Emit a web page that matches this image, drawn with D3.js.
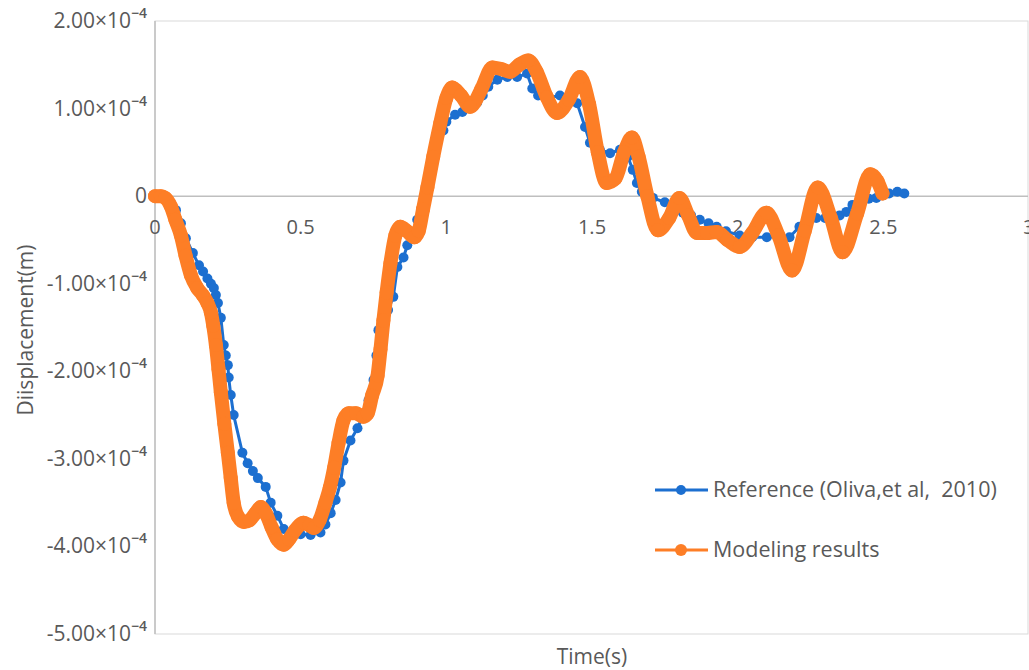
<!DOCTYPE html>
<html>
<head>
<meta charset="utf-8">
<script src="https://cdn.jsdelivr.net/npm/d3@7/dist/d3.min.js"></script>
<style>
  html, body { margin: 0; padding: 0; background: #fff; }
  svg { display: block; }
  text { font-family: "Open Sans", "Noto Sans", sans-serif; fill: #595959; white-space: pre; }
</style>
</head>
<body>
<svg id="chart" width="1029" height="670"></svg>
<script>
// Displacement values are in units of 10^-4 m.
const refTime = [0.00, 0.02, 0.04, 0.055, 0.072, 0.089, 0.106, 0.13, 0.151, 0.165, 0.18, 0.192, 0.202, 0.209, 0.216, 0.226, 0.236, 0.243, 0.25, 0.253, 0.26, 0.27, 0.30, 0.318, 0.336, 0.353, 0.38, 0.397, 0.42, 0.442, 0.47, 0.50, 0.534, 0.568, 0.585, 0.603, 0.62, 0.637, 0.647, 0.671, 0.695, 0.715, 0.733, 0.75, 0.76, 0.767, 0.785, 0.80, 0.818, 0.832, 0.853, 0.866, 0.88, 0.90, 0.921, 0.935, 0.948, 0.962, 0.99, 1.0, 1.03, 1.055, 1.08, 1.106, 1.125, 1.144, 1.175, 1.209, 1.243, 1.277, 1.295, 1.315, 1.349, 1.39, 1.42, 1.449, 1.476, 1.493, 1.527, 1.562, 1.596, 1.623, 1.64, 1.654, 1.671, 1.69, 1.709, 1.75, 1.78, 1.812, 1.84, 1.87, 1.90, 1.928, 1.96, 2.007, 2.05, 2.1, 2.14, 2.178, 2.212, 2.24, 2.27, 2.30, 2.325, 2.35, 2.373, 2.394, 2.428, 2.45, 2.476, 2.50, 2.52, 2.548, 2.572];
const refDisp = [0, 0, -0.02, -0.08, -0.16, -0.31, -0.48, -0.65, -0.79, -0.86, -0.94, -1.0, -1.05, -1.13, -1.22, -1.39, -1.70, -1.82, -1.93, -2.07, -2.27, -2.50, -2.93, -3.05, -3.14, -3.22, -3.32, -3.50, -3.65, -3.80, -3.84, -3.86, -3.87, -3.84, -3.75, -3.62, -3.47, -3.27, -3.02, -2.79, -2.65, -2.50, -2.33, -2.10, -1.82, -1.53, -1.40, -1.30, -1.15, -0.81, -0.70, -0.56, -0.45, -0.27, -0.08, 0.10, 0.40, 0.64, 0.75, 0.85, 0.93, 0.96, 1.00, 1.07, 1.15, 1.25, 1.33, 1.36, 1.36, 1.40, 1.23, 1.15, 1.12, 1.15, 1.12, 1.06, 0.79, 0.61, 0.53, 0.49, 0.53, 0.45, 0.30, 0.15, 0.05, 0.0, -0.02, -0.07, -0.13, -0.19, -0.22, -0.27, -0.31, -0.35, -0.40, -0.45, -0.47, -0.47, -0.46, -0.47, -0.35, -0.28, -0.25, -0.25, -0.27, -0.22, -0.18, -0.10, -0.05, -0.03, -0.02, 0.01, 0.03, 0.05, 0.03];

const modelTime = [0.0, 0.02, 0.035, 0.055, 0.07, 0.089, 0.105, 0.123, 0.145, 0.164, 0.18, 0.192, 0.2, 0.209, 0.218, 0.226, 0.238, 0.25, 0.26, 0.27, 0.285, 0.305, 0.325, 0.345, 0.363, 0.38, 0.40, 0.42, 0.442, 0.46, 0.48, 0.51, 0.53, 0.545, 0.565, 0.585, 0.60, 0.615, 0.63, 0.647, 0.665, 0.69, 0.715, 0.73, 0.745, 0.764, 0.774, 0.784, 0.795, 0.808, 0.825, 0.842, 0.865, 0.89, 0.905, 0.92, 0.935, 0.955, 0.979, 1.0, 1.02, 1.05, 1.082, 1.12, 1.158, 1.19, 1.219, 1.25, 1.281, 1.31, 1.345, 1.38, 1.42, 1.459, 1.49, 1.52, 1.55, 1.58, 1.61, 1.637, 1.66, 1.69, 1.726, 1.765, 1.80, 1.83, 1.86, 1.895, 1.928, 1.965, 2.007, 2.05, 2.099, 2.14, 2.187, 2.23, 2.275, 2.32, 2.36, 2.41, 2.455, 2.48, 2.497];
const modelDisp = [0, 0.0, -0.02, -0.12, -0.27, -0.45, -0.68, -0.90, -1.05, -1.13, -1.22, -1.33, -1.48, -1.70, -1.98, -2.24, -2.60, -2.93, -3.22, -3.50, -3.66, -3.72, -3.70, -3.62, -3.55, -3.62, -3.78, -3.92, -3.98, -3.92, -3.82, -3.73, -3.76, -3.79, -3.70, -3.50, -3.33, -3.10, -2.82, -2.56, -2.48, -2.48, -2.52, -2.48, -2.28, -2.05, -1.75, -1.42, -1.10, -0.77, -0.45, -0.35, -0.40, -0.47, -0.40, -0.15, 0.10, 0.45, 0.83, 1.12, 1.24, 1.15, 1.02, 1.22, 1.47, 1.45, 1.42, 1.50, 1.55, 1.42, 1.13, 0.95, 1.10, 1.36, 1.05, 0.50, 0.15, 0.20, 0.50, 0.67, 0.45, 0.0, -0.39, -0.25, -0.02, -0.22, -0.42, -0.42, -0.41, -0.50, -0.58, -0.42, -0.19, -0.45, -0.85, -0.40, 0.10, -0.25, -0.64, -0.20, 0.25, 0.17, 0.03];

const xTicks = [0, 0.5, 1, 1.5, 2, 2.5, 3];
const xTickLabels = ["0", "0.5", "1", "1.5", "2", "2.5", "3"];
const yTicks = [2, 1, 0, -1, -2, -3, -4, -5];
const yTickLabels = ["2.00", "1.00", "0", "-1.00", "-2.00", "-3.00", "-4.00", "-5.00"];
const seriesNames = ["Reference (Oliva,et al,  2010)", "Modeling results"];
const seriesColors = ["#1c6fd0", "#fd7e26"];

const svg = d3.select("#chart");
const plotLeft = 155, plotRight = 1028, plotTop = 21, plotBottom = 634;

const x = d3.scaleLinear().domain([0, 3]).range([plotLeft, plotRight + 1]);
const y = d3.scaleLinear().domain([-5, 2]).range([plotBottom, plotTop]);

// plot area frame
svg.append("rect")
  .attr("x", plotLeft).attr("y", plotTop)
  .attr("width", plotRight - plotLeft).attr("height", plotBottom - plotTop)
  .attr("fill", "none").attr("stroke", "#d9d9d9").attr("stroke-width", 1);

// vertical axis line and horizontal axis at zero
svg.append("line")
  .attr("x1", plotLeft).attr("x2", plotLeft).attr("y1", plotTop).attr("y2", plotBottom)
  .attr("stroke", "#bfbfbf").attr("stroke-width", 1.5);
svg.append("line")
  .attr("x1", plotLeft).attr("x2", plotRight).attr("y1", y(0)).attr("y2", y(0))
  .attr("stroke", "#bfbfbf").attr("stroke-width", 1.5);

// y tick labels with powers of ten
const yLab = svg.append("g").selectAll("text").data(yTicks).join("text")
  .attr("x", 147).attr("y", d => y(d) + 7)
  .attr("text-anchor", "end")
  .style("font-size", "21px");
yLab.each(function(d, i) {
  const t = d3.select(this);
  if (d === 0) { t.text(yTickLabels[i]); return; }
  t.append("tspan").text(yTickLabels[i] + "×10");
  t.append("tspan").attr("dy", -10).style("font-size", "14px").style("font-weight", 600).text("−4");
});

// x tick labels under the zero line
svg.append("g").selectAll("text").data(xTicks).join("text")
  .attr("x", d => x(d)).attr("y", y(0) + 38)
  .attr("text-anchor", "middle")
  .style("font-size", "20px")
  .text((d, i) => xTickLabels[i]);

// axis titles
svg.append("text")
  .attr("transform", `translate(33,330) rotate(-90)`)
  .attr("text-anchor", "middle")
  .style("font-size", "21px")
  .text("Diisplacement(m)");
svg.append("text")
  .attr("x", 592).attr("y", 664)
  .attr("text-anchor", "middle")
  .style("font-size", "21px")
  .text("Time(s)");

// series
const refData = refTime.map((t, i) => [t, refDisp[i]]);
const modelData = modelTime.map((t, i) => [t, modelDisp[i]]);

const refLine = d3.line().x(d => x(d[0])).y(d => y(d[1]));
svg.append("path").datum(refData)
  .attr("d", refLine)
  .attr("fill", "none").attr("stroke", seriesColors[0]).attr("stroke-width", 3)
  .attr("stroke-linejoin", "round");
svg.append("g").selectAll("circle").data(refData).join("circle")
  .attr("cx", d => x(d[0])).attr("cy", d => y(d[1])).attr("r", 5)
  .attr("fill", seriesColors[0]);

const modelLine = d3.line().x(d => x(d[0])).y(d => y(d[1])).curve(d3.curveMonotoneX);
svg.append("path").datum(modelData)
  .attr("d", modelLine)
  .attr("fill", "none").attr("stroke", seriesColors[1]).attr("stroke-width", 14)
  .attr("stroke-linejoin", "round").attr("stroke-linecap", "round");
svg.append("g").selectAll("circle").data(modelData).join("circle")
  .attr("cx", d => x(d[0])).attr("cy", d => y(d[1])).attr("r", 7)
  .attr("fill", seriesColors[1]);

// legend
const legend = svg.append("g").selectAll("g").data(seriesNames).join("g")
  .attr("transform", (d, i) => `translate(655,${490 + i * 60})`);
legend.append("line")
  .attr("x1", 0).attr("x2", 53).attr("y1", 0).attr("y2", 0)
  .attr("stroke", (d, i) => seriesColors[i]).attr("stroke-width", 3);
legend.append("circle")
  .attr("cx", 26).attr("cy", 0).attr("r", (d, i) => i === 0 ? 5 : 6)
  .attr("fill", (d, i) => seriesColors[i]);
legend.append("text")
  .attr("x", 58).attr("y", 7)
  .style("font-size", "21.5px")
  .text(d => d);
</script>
</body>
</html>
